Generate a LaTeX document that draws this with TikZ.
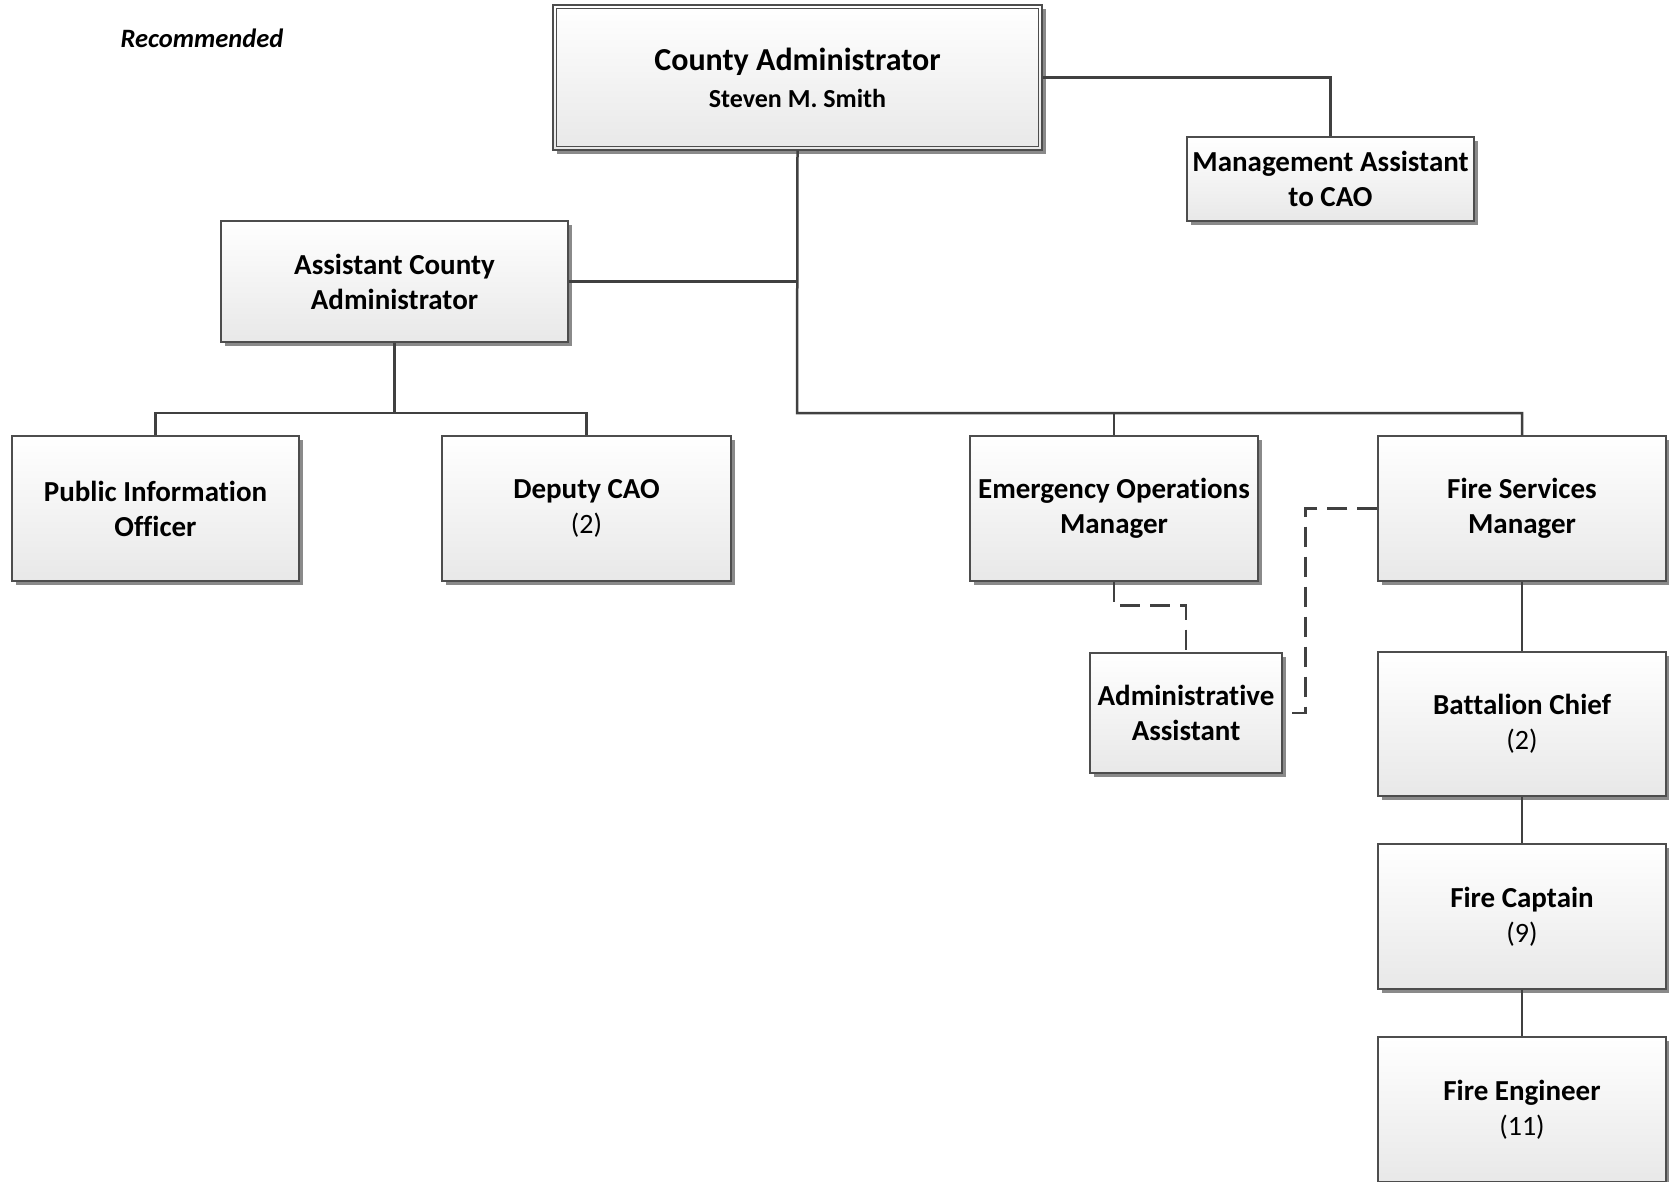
\documentclass[tikz,border=0pt]{standalone}
\usepackage{fontspec}
\setmainfont{Carlito}[Ligatures={NoCommon}]
\usetikzlibrary{shadows}
\definecolor{linegray}{HTML}{404040}
\definecolor{boxgray}{HTML}{4D4D4D}
\definecolor{shadowgray}{HTML}{8A8A8A}
\tikzset{
  orgbox/.style={draw=boxgray, line width=1.3pt, top color=white, bottom color=black!9,
    general shadow={fill=shadowgray, shadow xshift=4pt, shadow yshift=-4pt},
    align=center, inner sep=0pt, font=\fontsize{29}{35}\selectfont\bfseries},
  conn/.style={draw=linegray, line width=2.5pt},
  dconn/.style={draw=linegray, line width=2.5pt, dash pattern=on 20pt off 10pt},
}
\newcommand{\cnttxt}[1]{{\fontsize{28}{35}\selectfont\mdseries #1}}
\begin{document}
\begin{tikzpicture}[x=1pt,y=-1pt]
\clip (0,0) rectangle (1669,1182);
\fill[white] (0,0) rectangle (1669,1182);

\node[font=\fontsize{26.5}{30}\selectfont\bfseries\itshape] (rec) at (202,38) {Recommended};

\node[orgbox, minimum width=489pt, minimum height=145pt] (ca) at (797.5,77.5)
  {{\fontsize{32}{38}\selectfont County Administrator}\\[2pt]{\fontsize{26}{30}\selectfont Steven M. Smith}};
\draw[draw=boxgray, line width=1.3pt] ([shift={(4pt,-4pt)}]ca.north west) rectangle ([shift={(-4pt,4pt)}]ca.south east);

\node[orgbox, minimum width=287pt, minimum height=84pt] (ma) at (1330.5,179) {Management Assistant\\to CAO};
\node[orgbox, minimum width=347pt, minimum height=121pt] (aca) at (394.5,281.5) {Assistant County\\Administrator};
\node[orgbox, minimum width=287pt, minimum height=145pt] (pio) at (155.5,508.5) {Public Information\\Officer};
\node[orgbox, minimum width=289pt, minimum height=145pt] (dcao) at (586.5,508.5) {Deputy CAO\\\cnttxt{(2)}};
\node[orgbox, minimum width=288pt, minimum height=145pt] (eom) at (1114,508.5) {Emergency Operations\\Manager};
\node[orgbox, minimum width=288pt, minimum height=145pt] (fsm) at (1522,508.5) {Fire Services\\Manager};
\node[orgbox, minimum width=192pt, minimum height=120pt] (aa) at (1186,713) {Administrative\\Assistant};
\node[orgbox, minimum width=288pt, minimum height=144pt] (bc) at (1522,724) {Battalion Chief\\\cnttxt{(2)}};
\node[orgbox, minimum width=288pt, minimum height=145pt] (fc) at (1522,916.5) {Fire Captain\\\cnttxt{(9)}};
\node[orgbox, minimum width=288pt, minimum height=145pt] (fe) at (1522,1109.5) {Fire Engineer\\\cnttxt{(11)}};

\coordinate (bus) at (797,413);
\coordinate (abus) at (394.5,413);

\draw[conn] (ca.south) -- (bus) -| (fsm.north);
\draw[conn] (bus) -| (eom.north);
\draw[conn] (aca.east) -- (ca.south |- aca.east);
\draw[conn] (ca.east) -| (ma.north);
\draw[conn] (aca.south) -- (abus);
\draw[conn] (abus) -| (pio.north);
\draw[conn] (abus) -| (dcao.north);
\draw[dconn] (eom.south) -- ++(0,24) -| (aa.north);
\draw[dconn] (fsm.west) -- ++(-72,0) |- (aa.east);
\draw[conn] (fsm.south) -- (bc.north);
\draw[conn] (bc.south) -- (fc.north);
\draw[conn] (fc.south) -- (fe.north);
\end{tikzpicture}
\end{document}
